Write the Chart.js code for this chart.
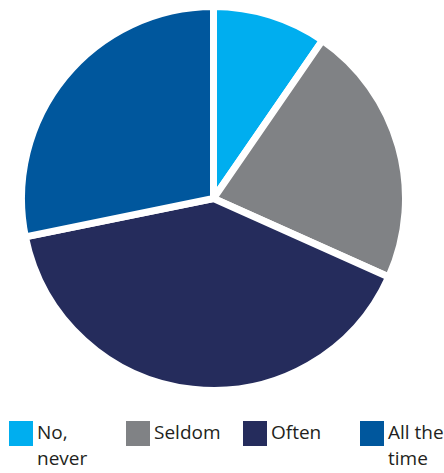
<!DOCTYPE html>
<html>
<head>
<meta charset="utf-8">
<script src="https://cdn.jsdelivr.net/npm/chart.js@4"></script>
<style>
  html, body { margin:0; padding:0; background:#fff; }
  body { width:444px; height:473px; position:relative; overflow:hidden; font-family:"Open Sans", sans-serif; }
  #wrap { position:absolute; left:18px; top:3px; width:391px; height:391px; }
  #legend { position:absolute; left:9px; top:421px; display:flex; }
  .item { width:117px; display:flex; align-items:flex-start; }
  .sw { width:24px; height:25px; flex:none; margin-right:4px; }
  .lbl { font-size:19px; line-height:26px; color:#231f20; margin-top:-2px; }
</style>
</head>
<body>
<div id="wrap"><canvas id="pie"></canvas></div>
<div id="legend"></div>
<script>
const labels = [['No,', 'never'], ['Seldom'], ['Often'], ['All the', 'time']];
const shares = [9.6, 22.1, 40.1, 28.2];
const colors = ['#00aeef', '#808285', '#252c5c', '#00579d'];

new Chart(document.getElementById('pie'), {
  type: 'pie',
  data: {
    labels: labels.map(l => l.join(' ')),
    datasets: [{ data: shares, backgroundColor: colors, borderColor: '#fff', borderWidth: 7 }]
  },
  options: {
    responsive: true, maintainAspectRatio: false, animation: false,
    layout: { padding: 0 },
    plugins: { legend: { display: false }, tooltip: { enabled: false } }
  }
});

// legend below the pie, labels wrap onto two lines
document.getElementById('legend').innerHTML = labels.map((l, i) =>
  `<div class="item"><div class="sw" style="background:${colors[i]}"></div><div class="lbl">${l.join('<br>')}</div></div>`
).join('');
</script>
</body>
</html>
